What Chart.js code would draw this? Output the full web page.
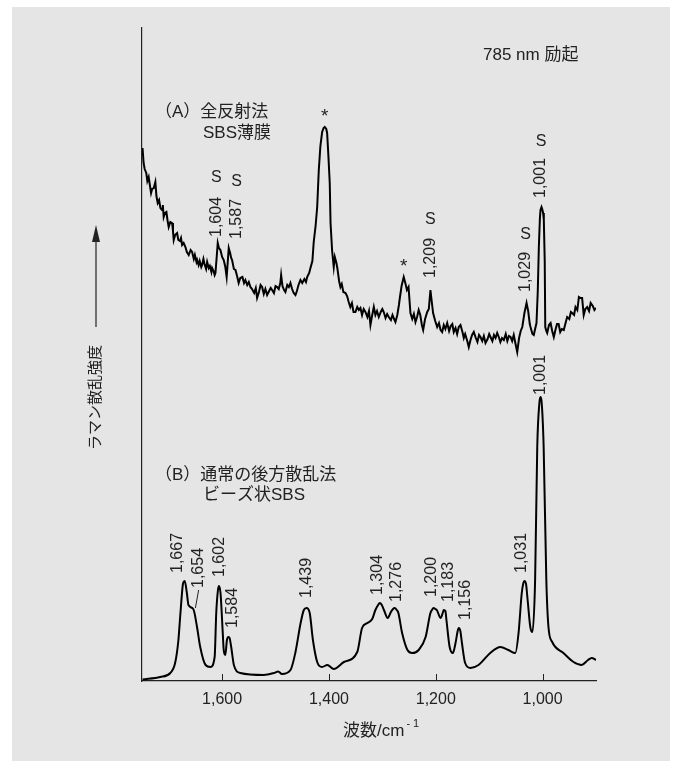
<!DOCTYPE html>
<html>
<head>
<meta charset="utf-8">
<script src="https://cdn.jsdelivr.net/npm/chart.js@4.4.1/dist/chart.umd.min.js"></script>
<style>
  html, body { margin: 0; padding: 0; background: #ffffff; }
  canvas { display: block; }
</style>
</head>
<body>
<canvas id="c" width="674" height="761"></canvas>
<script>
// ---- Data ----
// x tick values (cm^-1)
const tickValues = [1000, 1200, 1400, 1600];

// (A) ATR spectrum of SBS film, 785 nm excitation (noisy)
const wavenumberA = [1749,1747,1745,1742,1740,1737.5,1735,1733,1731,1728,1725,1723,1720.6,1718,1715.5,1712.4,1711,1709.4,1707,1704.3,1702,1700,1697,1693.6,1692,1690.6,1688,1684.3,1682,1679,1677,1674.9,1672,1668.7,1666,1662.5,1659,1656.2,1653,1651,1648,1646.8,1644,1642,1639,1637.5,1635,1633,1630,1628,1625,1623,1620,1618.7,1616,1614,1612.5,1610,1608.2,1606,1603.2,1600,1597,1594,1591.5,1590,1587.6,1585,1583,1581.3,1578,1575,1572,1569,1566,1562,1559,1556.4,1553,1550,1547,1544,1540,1537,1534.5,1531,1528,1525.1,1522,1519,1515.7,1512,1509,1506.4,1503,1500,1497,1494,1491,1489.5,1487,1484,1481.5,1478,1475,1472.1,1469,1466,1462.7,1460,1457,1453.4,1450,1446,1443,1440.8,1437,1434.6,1431,1428.5,1425,1422,1419,1416,1412.7,1410,1407.9,1405,1403.4,1401,1398.5,1397,1394,1391,1389,1386,1384,1381,1378.5,1376,1373,1369,1366,1363,1360,1357,1354,1350.4,1347,1344,1341,1338,1335,1331.7,1328,1325,1322.3,1320,1316,1313,1310,1306.7,1303,1300,1297.4,1294,1291,1288,1284,1281,1278,1275.5,1272,1269,1267,1264,1260,1257,1254,1251,1247.4,1244,1241,1238,1235,1232,1229,1226,1223.6,1220,1216,1213,1210,1207,1205,1201,1197.4,1194,1191,1188,1185,1182,1178.6,1175,1172,1169,1166.3,1163,1160,1157,1153.7,1150,1147.5,1145,1141,1138.2,1135,1132,1128.8,1125,1122,1119,1116.3,1113,1110,1106.9,1103,1100,1097.5,1094,1091,1088,1085,1082,1079,1076,1072.6,1069,1066,1063,1060,1057,1054,1051,1047.5,1044,1041,1038,1034,1030,1027,1024,1022.6,1019,1016.5,1014,1011.4,1009,1007,1005,1003.9,1002,1000.7,999,997.7,996,995,993,991.4,988,985,982,979,976,973,970,967,964,960.3,957,954,950,947,944.6,941,938.4,935,932,929,926,923,920,916.5,913,910,906,903,900];
const intensityA = [533,518,512,508,500,504,495,488,492,493,499,485,478,481,473,471,476,464,468,469,460,454,459,458,450,441,446,448,441,440,443,436,438,434,429,426,431,429,422,426,419,421,416,420,414,416,422,417,412,419,413,415,409,413,410,406,408,425,438,433,431,424,421,414,404,415,433,428,423,421,412,411,405,398,403,404,398,401,396,399,394,392,388,393,383,389,396,394,387,392,386,390,393,391,388,395,394,392,398,406,395,391,389,396,394,398,392,388,386,390,396,401,398,402,399,404,408,413,420,439,455,474,511,535,549,553,554,552,548,525,498,458,430,414,424,418,412,400,394,397,389,388,385,379,374,378,369,369,374,371,373,366,372,369,364,370,356,363,374,366,370,364,369,372,369,363,367,364,361,366,362,359,366,376,384,395,404,398,391,394,368,362,367,359,364,371,366,356,351,362,369,372,391,377,368,360,354,358,351,349,356,352,358,350,355,357,349,353,347,354,356,349,343,347,340,334,341,346,349,343,339,346,344,340,345,338,342,347,344,340,346,343,348,344,339,343,341,347,340,345,344,340,346,338,329,343,350,354,368,378,370,357,354,347,346,352,358,390,434,463,471,474,472,468,461,420,354,350,348,356,358,350,344,351,357,357,349,352,351,358,364,362,369,368,366,374,371,384,383,383,366,372,374,370,378,375,371,373];

// (B) conventional backscattering spectrum of SBS beads (smooth)
const wavenumberB = [1749,1716,1697,1688,1682,1678,1673,1670,1666,1663,1654,1647,1641,1631,1622,1614,1611,1608,1606,1603,1599,1597,1594,1591,1588,1586,1583,1578,1566,1522,1503,1495,1488,1472,1463,1453,1447,1442,1436,1430,1422,1413,1403,1391,1372,1347,1338,1328,1319,1313,1308,1305,1301,1297,1290,1284,1280,1277,1273,1270,1263,1253,1244,1232,1219,1210,1206,1204,1201,1198,1191,1187,1185,1182,1180,1174,1168,1163,1159,1157,1154,1151,1145,1135,1120,1098,1079,1064,1051,1045,1039,1036,1034,1031,1028,1023,1019,1014,1010,1006,1004,1002,998,993,989,982,961,942,927,915,908,900];
const intensityB = [1.5,4,8,18,40,68,98,100,88,76,72,54,34,16,14,24,68,90,95,88,50,31,26,41,44,43,34,16,8,6,8,9.5,7,11,28,58,71,73,68,41,19,14,16,12,19,29,53,58,62,71,76,78,76,71,63,69,72,73,71,68,48,31,28,31,44,68,72,73,72,71,63,68,71,70,61,34,28,38,50,53,50,38,18,13,16,28,34,31,28,48,88,98,100,97,81,54,49,101,234,278,284,280,234,101,54,39,28,19,16,21,23,21];

// Peak / marker annotations (text, wavenumber, intensity, rotated?)
const annotationText = ['S','S','1,604','1,587','*','*','1,209','S','1,029','S','1,001','S',
  '1,667','1,654','1,602','1,584','1,439','1,304','1,276','1,200','1,183','1,156','1,031','1,001'];
const annotationWn  = [1611,1573,1611,1573,1408,1260,1210,1210,1032,1032,1003,1003,
  1684,1644,1604,1581,1442,1309,1274,1208,1176,1144,1040,1004];
const annotationVal = [503,499,444,442,570,420,403,461,389,446,483,539,
  108,93,104,53,83,86,79,84,79,61,108,286];
const annotationRot = [0,0,1,1,0,0,1,0,1,0,1,0,
  1,1,1,1,1,1,1,1,1,1,1,1];

// ---- Plugins ----
const FONT = '"Liberation Sans", "Noto Sans CJK JP", Arial, sans-serif';
const TEXT = '#222222';

const backgroundPlugin = {
  id: 'bg',
  beforeDraw(chart) {
    const ctx = chart.ctx;
    ctx.save();
    ctx.fillStyle = '#e5e5e5';
    ctx.fillRect(12, 7, 658, 754);
    ctx.restore();
  }
};

const decorPlugin = {
  id: 'decor',
  afterDraw(chart) {
    const ctx = chart.ctx;
    const xs = chart.scales.x, ys = chart.scales.y;
    const ca = chart.chartArea;
    ctx.save();
    // inward x ticks
    ctx.strokeStyle = '#222';
    ctx.lineWidth = 1;
    tickValues.forEach(v => {
      const px = Math.round(xs.getPixelForValue(v)) + 0.5;
      ctx.beginPath();
      ctx.moveTo(px, ca.bottom);
      ctx.lineTo(px, ca.bottom - 7);
      ctx.stroke();
    });

    // annotations
    ctx.fillStyle = TEXT;
    for (let i = 0; i < annotationText.length; i++) {
      const px = xs.getPixelForValue(annotationWn[i]);
      const py = ys.getPixelForValue(annotationVal[i]);
      const t = annotationText[i];
      if (annotationRot[i]) {
        ctx.save();
        ctx.translate(px, py);
        ctx.rotate(-Math.PI / 2);
        ctx.font = '16px ' + FONT;
        ctx.textAlign = 'left';
        ctx.textBaseline = 'middle';
        ctx.fillText(t, 0, 0);
        ctx.restore();
      } else {
        ctx.font = (t === '*' ? '19px ' : '16px ') + FONT;
        ctx.textAlign = 'center';
        ctx.textBaseline = t === '*' ? 'top' : 'middle';
        ctx.fillText(t, px, t === '*' ? py - 4 : py);
      }
    }
    // leader line for 1,654
    ctx.beginPath();
    ctx.lineWidth = 1;
    ctx.moveTo(xs.getPixelForValue(1644), ys.getPixelForValue(91));
    ctx.lineTo(xs.getPixelForValue(1650), ys.getPixelForValue(73));
    ctx.stroke();

    // text blocks
    ctx.font = '17px ' + FONT;
    ctx.textAlign = 'left';
    ctx.textBaseline = 'middle';
    ctx.fillText('785 nm 励起', ca.left + 341, ca.top + 27);

    ctx.font = '17px ' + FONT;
    ctx.fillText('（A）全反射法', ca.left + 13, ca.top + 84);
    ctx.fillText('SBS薄膜', ca.left + 61, ca.top + 105);
    ctx.fillText('（B）通常の後方散乱法', ca.left + 13, ca.top + 447);
    ctx.fillText('ビーズ状SBS', ca.left + 61, ca.top + 467);

    // x-axis title with superscript
    ctx.font = '17px ' + FONT;
    ctx.textBaseline = 'middle';
    const titleMain = '波数/cm';
    const tx = ca.left + 201;
    const ty = ca.bottom + 50;
    ctx.fillText(titleMain, tx, ty);
    const w = ctx.measureText(titleMain).width;
    ctx.font = '11px ' + FONT;
    ctx.fillText('- 1', tx + w + 2, ty - 7);

    // y-axis title with arrow
    const ax = ca.left - 46;
    ctx.save();
    ctx.translate(ax, ca.top + 422);
    ctx.rotate(-Math.PI / 2);
    ctx.font = '15px ' + FONT;
    ctx.textAlign = 'left';
    ctx.textBaseline = 'middle';
    ctx.fillText('ラマン散乱強度', 0, 0);
    ctx.restore();
    ctx.strokeStyle = '#222';
    ctx.lineWidth = 1.2;
    ctx.beginPath();
    ctx.moveTo(ax, ca.top + 299);
    ctx.lineTo(ax, ca.top + 210);
    ctx.stroke();
    ctx.beginPath();
    ctx.moveTo(ax, ca.top + 197);
    ctx.lineTo(ax - 4, ca.top + 214);
    ctx.lineTo(ax + 4, ca.top + 214);
    ctx.closePath();
    ctx.fill();
    ctx.restore();
  }
};

const toPts = (xs, ys) => xs.map((x, i) => ({ x: x, y: ys[i] }));

new Chart(document.getElementById('c'), {
  type: 'line',
  data: {
    datasets: [
      {
        label: '(A)',
        data: toPts(wavenumberA, intensityA),
        borderColor: '#000',
        borderWidth: 2,
        pointRadius: 0,
        tension: 0,
        fill: false
      },
      {
        label: '(B)',
        data: toPts(wavenumberB, intensityB),
        borderColor: '#000',
        borderWidth: 2,
        pointRadius: 0,
        cubicInterpolationMode: 'monotone',
        fill: false
      }
    ]
  },
  options: {
    responsive: false,
    animation: false,
    events: [],
    layout: { padding: { left: 142, right: 78, top: 28, bottom: 0 } },
    plugins: { legend: { display: false }, tooltip: { enabled: false }, title: { display: false } },
    scales: {
      x: {
        type: 'linear',
        reverse: true,
        min: 900,
        max: 1750,
        afterFit: s => { s.height = 80; },
        afterBuildTicks: s => { s.ticks = tickValues.map(v => ({ value: v })); },
        grid: { display: false, drawTicks: false },
        border: { display: true, color: '#222', width: 1.2 },
        ticks: {
          padding: 9,
          color: TEXT,
          font: { family: FONT, size: 16 },
          maxRotation: 0,
          callback: v => Number(v).toLocaleString('en-US')
        }
      },
      y: {
        type: 'linear',
        min: 0,
        max: 653,
        afterFit: s => { s.width = 0; },
        grid: { display: false, drawTicks: false },
        border: { display: true, color: '#222', width: 1.2 },
        ticks: { display: false }
      }
    }
  },
  plugins: [backgroundPlugin, decorPlugin]
});
</script>
</body>
</html>
